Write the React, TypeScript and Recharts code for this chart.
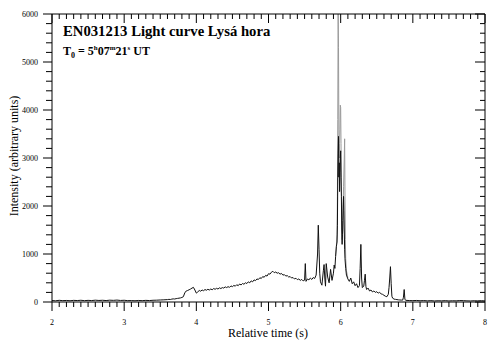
import { LineChart, Line, XAxis, YAxis } from 'recharts'

// relative time (s) and intensity (arbitrary units)
const timeS = [
  2.0, 2.05, 2.1, 2.15, 2.2, 2.25, 2.3, 2.35, 2.4, 2.45, 2.5, 2.55, 2.6, 2.65, 2.7, 2.75, 2.8, 2.85, 2.9, 2.95,
  3.0, 3.05, 3.1, 3.15, 3.2, 3.25, 3.3, 3.35, 3.4, 3.45, 3.5, 3.55, 3.6,
  3.62, 3.64, 3.66, 3.68, 3.7, 3.72, 3.74, 3.76, 3.78, 3.8, 3.82, 3.84, 3.86, 3.88, 3.9, 3.92, 3.94, 3.96, 3.98,
  4.0, 4.02, 4.04, 4.06, 4.08, 4.1, 4.12, 4.14, 4.16, 4.18, 4.2, 4.22, 4.24, 4.26, 4.28, 4.3, 4.32, 4.34, 4.36, 4.38,
  4.4, 4.42, 4.44, 4.46, 4.48, 4.5, 4.52, 4.54, 4.56, 4.58, 4.6, 4.62, 4.64, 4.66, 4.68, 4.7, 4.72, 4.74, 4.76, 4.78,
  4.8, 4.82, 4.84, 4.86, 4.88, 4.9, 4.92, 4.94, 4.96, 4.98, 5.0, 5.02, 5.04, 5.06, 5.08, 5.1, 5.12, 5.14, 5.16, 5.18,
  5.2, 5.22, 5.24, 5.26, 5.28, 5.3, 5.32, 5.34, 5.36, 5.38, 5.4, 5.42, 5.44, 5.46, 5.48, 5.5, 5.51, 5.52, 5.54, 5.56,
  5.58, 5.6, 5.62, 5.64, 5.66, 5.68, 5.69, 5.7, 5.71, 5.72, 5.74, 5.76, 5.77, 5.78, 5.79, 5.8, 5.82, 5.84, 5.86, 5.88,
  5.9, 5.91, 5.92, 5.93, 5.94, 5.95, 5.955, 5.96, 5.965, 5.97, 5.975, 5.98, 5.985, 5.99, 5.995, 6.0, 6.005, 6.01,
  6.015, 6.02, 6.025, 6.03, 6.035, 6.04, 6.045, 6.05, 6.055, 6.06, 6.07, 6.08, 6.09, 6.1, 6.12, 6.14, 6.16, 6.18,
  6.2, 6.22, 6.24, 6.26, 6.27, 6.28, 6.29, 6.3, 6.32, 6.33, 6.34, 6.35, 6.36, 6.38, 6.4, 6.42, 6.44, 6.46, 6.48,
  6.5, 6.52, 6.54, 6.56, 6.58, 6.6, 6.62, 6.64, 6.66, 6.67, 6.68, 6.69, 6.7, 6.71, 6.72, 6.74, 6.76, 6.78, 6.8,
  6.82, 6.84, 6.86, 6.87, 6.88, 6.89, 6.9, 6.95, 7.0, 7.05, 7.1, 7.15, 7.2, 7.25, 7.3, 7.35, 7.4, 7.45, 7.5, 7.55,
  7.6, 7.65, 7.7, 7.75, 7.8, 7.85, 7.9, 7.95, 8.0,
]
const intensity = [
  30, 25, 35, 28, 32, 26, 34, 30, 36, 28, 34, 30, 38, 32, 36, 30, 38, 34, 40, 32,
  36, 28, 30, 26, 32, 28, 34, 30, 36, 38, 42, 45, 50,
  55, 52, 60, 65, 62, 70, 75, 80, 85, 95, 110, 190, 230, 240, 255, 270, 290, 305, 250,
  185, 210, 240, 225, 250, 235, 260, 245, 265, 250, 270, 255, 280, 265, 285, 270, 295, 280, 300, 290,
  315, 300, 320, 305, 335, 320, 345, 330, 360, 340, 375, 355, 385, 370, 400, 385, 420, 400, 440, 420,
  460, 445, 480, 470, 505, 490, 530, 515, 555, 540, 590, 580, 620, 640, 610, 625, 600, 610, 580, 595,
  560, 570, 540, 550, 520, 530, 500, 510, 480, 495, 465, 480, 450, 470, 440, 455, 800, 430, 480, 460,
  500, 470, 510, 490, 560, 1000, 1600, 1100, 600, 420, 350, 650, 780, 500, 330, 800, 520, 400, 680, 450,
  600, 770, 700, 950, 1150, 1250, 1600, 2600, 3100, 3450, 2600, 2900, 2300, 2700, 3000, 3150, 2600, 2200,
  1500, 1200, 1400, 1700, 2000, 2200, 1900, 1500, 1100, 900, 700, 560, 520, 480, 430, 500, 380, 420,
  340, 380, 300, 340, 700, 1200, 500, 300, 330, 450, 580, 320, 260, 290, 230, 250, 210, 230, 200,
  215, 185, 200, 170, 160, 140, 120, 110, 160, 300, 500, 736, 380, 120, 80, 60, 55, 50, 45,
  42, 40, 40, 100, 260, 60, 35, 30, 28, 32, 26, 30, 24, 28, 22, 26, 24, 28, 22, 26, 24,
  30, 28, 24, 22, 26, 24, 28, 22,
]

// grey envelope of the raw samples around the main flare
const peakTimeS = [
  5.93, 5.94, 5.95, 5.955, 5.96, 5.965, 5.97, 5.975, 5.98, 5.985, 5.99, 5.995, 6.0, 6.005, 6.01, 6.015, 6.02,
  6.03, 6.04, 6.05, 6.055, 6.06, 6.065, 6.07, 6.08, 6.1,
]
const peakIntensity = [
  950, 1150, 1400, 2200, 3800, 6000, 5300, 3500, 3000, 3300, 3600, 4100, 4050, 3300, 2500, 1800, 1300,
  1500, 2400, 3000, 3400, 2200, 1300, 900, 650, 500,
]

const xMajor = [2, 3, 4, 5, 6, 7, 8]
const yMajor = [0, 1000, 2000, 3000, 4000, 5000, 6000]
// minor ticks every 0.1 s and every 200 units
const xTicks = Array.from({ length: 61 }, (_, i) => Math.round((2 + i * 0.1) * 10) / 10)
const yTicks = Array.from({ length: 31 }, (_, i) => i * 200)

const FONT = '"Liberation Serif", "Times New Roman", serif'

const curve = timeS.map((t, i) => ({ t, v: intensity[i] }))
const peak = peakTimeS.map((t, i) => ({ t, v: peakIntensity[i] }))

function BottomTick({ x, y, payload }: any) {
  const major = xMajor.includes(payload.value)
  return (
    <g>
      <rect x={x - 0.5} y={y} width={1} height={major ? 9 : 5} fill="#000" />
      {major && (
        <text x={x} y={y + 23} textAnchor="middle" fontSize={8} fontFamily={FONT} fill="#000">
          {payload.value}
        </text>
      )}
    </g>
  )
}

function TopTick({ x, y, payload }: any) {
  const major = xMajor.includes(payload.value)
  return <rect x={x - 0.5} y={y} width={1} height={major ? 9 : 5} fill="#000" />
}

function LeftTick({ x, y, payload }: any) {
  const major = yMajor.includes(payload.value)
  const len = major ? 9 : 6
  return (
    <g>
      <rect x={x - len} y={y - 0.5} width={len} height={1} fill="#000" />
      {major && (
        <text x={x - 14} y={y + 3} textAnchor="end" fontSize={8} fontFamily={FONT} fill="#000">
          {payload.value}
        </text>
      )}
    </g>
  )
}

function RightTick({ x, y, payload }: any) {
  const major = yMajor.includes(payload.value)
  const len = major ? 10 : 5
  return <rect x={x - len} y={y - 0.5} width={len} height={1} fill="#000" />
}

export default function App() {
  return (
    <div style={{ position: 'absolute', left: 0, top: 0, width: 497, height: 349, background: '#fff' }}>
      <LineChart width={497} height={349} margin={{ top: 4, right: 2, bottom: 0, left: 0 }}>
        <XAxis
          dataKey="t"
          type="number"
          domain={[2, 8]}
          ticks={xTicks}
          interval={0}
          height={47}
          tickSize={0}
          tickMargin={0}
          tickLine={false}
          tick={BottomTick}
          stroke="#000"
        />
        <XAxis
          xAxisId="top"
          orientation="top"
          dataKey="t"
          type="number"
          domain={[2, 8]}
          ticks={xTicks}
          interval={0}
          height={10}
          tickSize={0}
          tickMargin={0}
          tickLine={false}
          tick={TopTick}
          stroke="#000"
        />
        <YAxis
          type="number"
          domain={[0, 6000]}
          ticks={yTicks}
          interval={0}
          width={52}
          tickSize={0}
          tickMargin={0}
          tickLine={false}
          tick={LeftTick}
          stroke="#000"
          allowDataOverflow
        />
        <YAxis
          yAxisId="right"
          orientation="right"
          type="number"
          domain={[0, 6000]}
          ticks={yTicks}
          interval={0}
          width={10}
          tickSize={0}
          tickMargin={0}
          tickLine={false}
          tick={RightTick}
          stroke="#000"
          allowDataOverflow
        />
        <Line
          data={peak}
          dataKey="v"
          xAxisId="top"
          yAxisId="right"
          stroke="#9a9a9a"
          strokeWidth={1}
          dot={false}
          isAnimationActive={false}
        />
        <Line
          data={curve}
          dataKey="v"
          stroke="#111"
          strokeWidth={1}
          dot={false}
          isAnimationActive={false}
        />
      </LineChart>
      <svg
        width={497}
        height={349}
        style={{ position: 'absolute', left: 0, top: 0, pointerEvents: 'none' }}
        fontFamily={FONT}
      >
        <text x={63} y={36} fontSize={14.7} fontWeight="bold" fill="#000">
          EN031213 Light curve Lysá hora
        </text>
        <text x={63} y={55} fontSize={12} fontWeight="bold" fill="#000">
          T<tspan fontSize={8} dy={3}>0</tspan>
          <tspan dy={-3}>{' = 5'}</tspan>
          <tspan fontSize={7} dy={-5}>h</tspan>
          <tspan dy={5}>07</tspan>
          <tspan fontSize={7} dy={-5}>m</tspan>
          <tspan dy={5}>21</tspan>
          <tspan fontSize={7} dy={-5}>s</tspan>
          <tspan dy={5}>{' UT'}</tspan>
        </text>
        <text x={268} y={337} fontSize={12} textAnchor="middle" fill="#000">
          Relative time (s)
        </text>
        <text
          x={0}
          y={0}
          fontSize={12}
          textAnchor="middle"
          fill="#000"
          transform="translate(18,156) rotate(-90)"
        >
          Intensity (arbitrary units)
        </text>
      </svg>
    </div>
  )
}
